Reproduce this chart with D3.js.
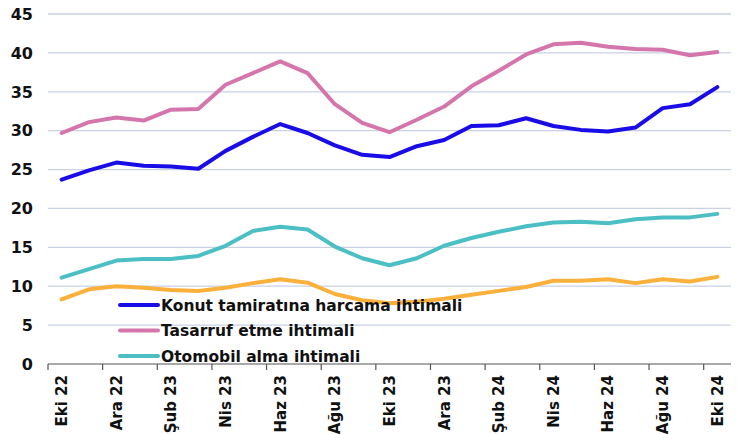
<!DOCTYPE html>
<html>
<head>
<meta charset="utf-8">
<script src="https://cdn.jsdelivr.net/npm/d3@7"></script>
<style>
  body { margin: 0; background: #fff; }
  svg { display: block; font-family: "DejaVu Sans", Lato, sans-serif; }
</style>
</head>
<body>
<div id="chart"></div>
<script>
// Months, Eki 22 .. Eki 24
var months = ['Eki 22', 'Kas 22', 'Ara 22', 'Oca 23', 'Şub 23', 'Mar 23', 'Nis 23', 'May 23',
  'Haz 23', 'Tem 23', 'Ağu 23', 'Eyl 23', 'Eki 23', 'Kas 23', 'Ara 23', 'Oca 24', 'Şub 24',
  'Mar 24', 'Nis 24', 'May 24', 'Haz 24', 'Tem 24', 'Ağu 24', 'Eyl 24', 'Eki 24'];

var konutValues = [23.7, 24.9, 25.9, 25.5, 25.4, 25.1, 27.4, 29.2, 30.85, 29.7, 28.1, 26.9, 26.6,
  28.0, 28.8, 30.6, 30.7, 31.6, 30.6, 30.1, 29.9, 30.4, 32.9, 33.4, 35.6];
var tasarrufValues = [29.7, 31.1, 31.7, 31.3, 32.7, 32.8, 35.9, 37.4, 38.9, 37.4, 33.4, 31.0, 29.8,
  31.4, 33.1, 35.7, 37.7, 39.8, 41.1, 41.3, 40.8, 40.5, 40.4, 39.7, 40.1];
var otomobilValues = [11.1, 12.2, 13.3, 13.5, 13.5, 13.9, 15.2, 17.1, 17.65, 17.3, 15.1, 13.6, 12.7,
  13.6, 15.2, 16.2, 17.0, 17.7, 18.2, 18.3, 18.1, 18.6, 18.85, 18.85, 19.3];
var dorduncuValues = [8.3, 9.6, 10.0, 9.8, 9.5, 9.4, 9.8, 10.4, 10.9, 10.45, 9.0, 8.2, 7.8,
  8.0, 8.4, 8.9, 9.4, 9.9, 10.7, 10.7, 10.9, 10.4, 10.9, 10.6, 11.2];

var yTicks = [0, 5, 10, 15, 20, 25, 30, 35, 40, 45];

var series = [
  { name: 'Dördüncü seri', values: dorduncuValues, color: '#fbb03b', legend: false },
  { name: 'Otomobil alma ihtimali', values: otomobilValues, color: '#4bbfc3', legend: true },
  { name: 'Tasarruf etme ihtimali', values: tasarrufValues, color: '#d476ac', legend: true },
  { name: 'Konut tamiratına harcama ihtimali', values: konutValues, color: '#1a0ce6', legend: true }
];

var width = 745, height = 434;
var margins = { left: 48, right: 14, top: 14, bottom: 70 };
var innerW = width - margins.left - margins.right;
var innerH = height - margins.top - margins.bottom;

var svg = d3.select('#chart').append('svg')
  .attr('width', width)
  .attr('height', height);

var g = svg.append('g')
  .attr('transform', 'translate(' + margins.left + ',' + margins.top + ')');

var x = d3.scaleBand().domain(months).range([0, innerW]);
var y = d3.scaleLinear().domain([0, 45]).range([innerH, 0]);

// Grid lines
g.append('g').selectAll('line')
  .data(yTicks.filter(function(d) { return d > 0; }))
  .enter().append('line')
  .attr('x1', 0).attr('x2', innerW)
  .attr('y1', function(d) { return y(d); })
  .attr('y2', function(d) { return y(d); })
  .style('stroke', '#c9d1e3')
  .style('stroke-width', 1.3);

// Y axis labels
g.append('g').selectAll('text')
  .data(yTicks)
  .enter().append('text')
  .attr('x', -15)
  .attr('y', function(d) { return y(d); })
  .attr('dy', '0.36em')
  .attr('text-anchor', 'end')
  .style('font-size', '16px')
  .style('font-weight', 700)
  .style('fill', '#111')
  .text(function(d) { return d; });

// Lines
var line = d3.line()
  .x(function(d, i) { return x(months[i]) + x.bandwidth() / 2; })
  .y(function(d) { return y(d); });

g.append('g').selectAll('path')
  .data(series)
  .enter().append('path')
  .attr('d', function(d) { return line(d.values); })
  .style('fill', 'none')
  .style('stroke', function(d) { return d.color; })
  .style('stroke-width', 4)
  .style('stroke-linejoin', 'round')
  .style('stroke-linecap', 'round');

// X axis: ticks on band edges every two months
var xAxisG = g.append('g').attr('transform', 'translate(0,' + innerH + ')');
xAxisG.append('line')
  .attr('x1', 0).attr('x2', innerW)
  .style('stroke', '#555').style('stroke-width', 1.2);
var tickIdx = d3.range(0, months.length, 2);
xAxisG.selectAll('line.tick')
  .data(tickIdx)
  .enter().append('line')
  .attr('class', 'tick')
  .attr('x1', function(i) { return x(months[i]); })
  .attr('x2', function(i) { return x(months[i]); })
  .attr('y1', 0).attr('y2', 6)
  .style('stroke', '#555').style('stroke-width', 1.2);
xAxisG.selectAll('text')
  .data(tickIdx)
  .enter().append('text')
  .attr('transform', function(i) {
    return 'translate(' + (x(months[i]) + x.bandwidth() / 2) + ',11) rotate(-90)';
  })
  .attr('text-anchor', 'end')
  .attr('dy', '0.36em')
  .style('font-size', '15px')
  .style('font-weight', 700)
  .style('fill', '#111')
  .text(function(i) { return months[i]; });

// Legend (only the first three entries show)
var legendData = series.filter(function(d) { return d.legend; }).reverse();
var legend = svg.append('g').attr('transform', 'translate(120,305)');
var rows = legend.selectAll('g')
  .data(legendData)
  .enter().append('g')
  .attr('transform', function(d, i) { return 'translate(0,' + (i * 25.5) + ')'; });
rows.append('line')
  .attr('x1', 0).attr('x2', 38)
  .style('stroke', function(d) { return d.color; })
  .style('stroke-width', 4)
  .style('stroke-linecap', 'round');
rows.append('text')
  .attr('x', 41)
  .attr('dy', '0.36em')
  .style('font-size', '15.5px')
  .style('font-weight', 700)
  .style('fill', '#111')
  .text(function(d) { return d.name; });
</script>
</body>
</html>
